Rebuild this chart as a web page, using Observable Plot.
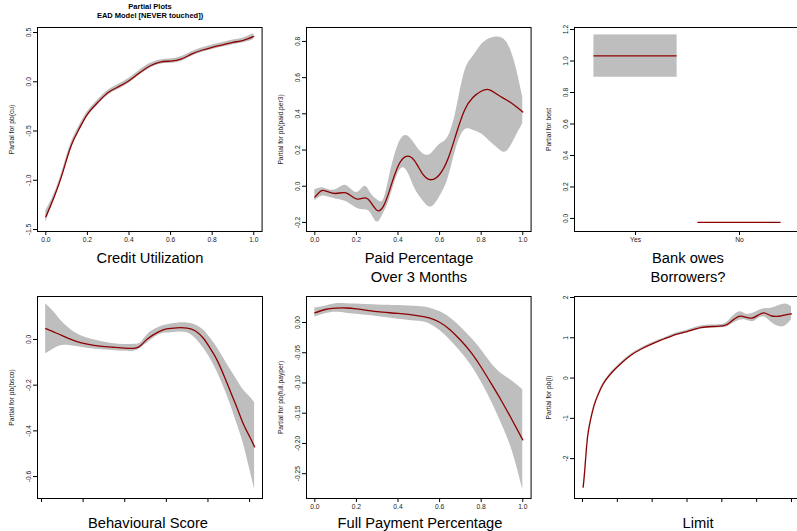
<!DOCTYPE html>
<html><head><meta charset="utf-8">
<script src="https://cdn.jsdelivr.net/npm/d3@7"></script>
<script src="https://cdn.jsdelivr.net/npm/@observablehq/plot@0.6"></script>
<style>
html,body{margin:0;padding:0;background:#fff;overflow:hidden;}
#root{position:relative;width:797px;height:531px;overflow:hidden;}
.panel{position:absolute;}
.panel svg{max-width:none;}
.xl{position:absolute;font-family:"Liberation Sans",Arial,sans-serif;font-size:14.7px;line-height:18.5px;text-align:center;transform:translateX(-50%);white-space:nowrap;color:#000;}
.title{position:absolute;left:150px;top:3px;transform:translateX(-50%);font-family:"Liberation Sans",Arial,sans-serif;font-weight:bold;font-size:7.5px;line-height:8.7px;text-align:center;white-space:nowrap;}
</style></head><body><div id="root"></div>
<script>
// ---------- Data ----------
// Panel 1: Credit Utilization  pb(cu)
const cuX   = [0,0.04,0.08,0.12,0.16,0.2,0.25,0.3,0.35,0.4,0.45,0.5,0.55,0.6,0.65,0.7,0.75,0.8,0.85,0.9,0.95,1.0];
const cuFit = [-1.37,-1.17,-0.93,-0.66,-0.48,-0.33,-0.21,-0.11,-0.05,0.01,0.09,0.16,0.20,0.21,0.23,0.28,0.32,0.35,0.375,0.40,0.42,0.46];
const cuLo  = [-1.43,-1.20,-0.96,-0.69,-0.51,-0.355,-0.235,-0.135,-0.075,-0.015,0.065,0.135,0.178,0.188,0.207,0.257,0.297,0.327,0.352,0.377,0.395,0.43];
const cuHi  = [-1.31,-1.14,-0.90,-0.63,-0.45,-0.305,-0.185,-0.085,-0.025,0.035,0.115,0.185,0.222,0.232,0.253,0.303,0.343,0.373,0.398,0.423,0.445,0.49];

// Panel 2: Paid Percentage Over 3 Months  pb(paid.per3)
const ppX   = [0,0.025,0.05,0.1,0.15,0.2,0.24,0.27,0.3,0.33,0.36,0.4,0.44,0.48,0.52,0.56,0.6,0.64,0.68,0.72,0.76,0.8,0.84,0.88,0.92,0.96,1.0];
const ppFit = [-0.06,-0.03,-0.025,-0.04,-0.037,-0.07,-0.064,-0.09,-0.134,-0.11,-0.02,0.11,0.165,0.14,0.065,0.036,0.065,0.15,0.29,0.42,0.49,0.525,0.533,0.505,0.478,0.447,0.41];
const ppLo  = [-0.08,-0.06,-0.055,-0.07,-0.085,-0.12,-0.13,-0.15,-0.198,-0.15,-0.07,0.069,0.09,-0.01,-0.08,-0.115,-0.06,0.04,0.21,0.31,0.31,0.29,0.25,0.21,0.19,0.26,0.345];
const ppHi  = [-0.02,-0.01,-0.012,-0.02,0.004,-0.035,0.0,-0.04,-0.075,-0.075,0.06,0.225,0.28,0.235,0.18,0.18,0.23,0.27,0.42,0.63,0.715,0.78,0.815,0.825,0.8,0.69,0.49];

// Panel 3: Bank owes Borrowers?  bost (factor)
const bostLevels = ["Yes","No"];
const bostPos    = [1,2];
const bostFit    = [1.033,-0.025];
const bostLo     = [0.897,-0.025];
const bostHi     = [1.166,-0.025];

// Panel 4: Behavioural Score  pb(bsco)
const bsX   = [10,30,50,80,110,140,170,200,225,240,255,280,300,325,350,370,390,405,420,440,455,470,485,500,512];
const bsFit = [0.047,0.032,0.017,-0.006,-0.02,-0.029,-0.034,-0.038,-0.038,-0.024,0.003,0.032,0.046,0.051,0.05,0.037,0.003,-0.038,-0.084,-0.165,-0.233,-0.30,-0.37,-0.425,-0.47];
const bsLo  = [-0.063,-0.041,-0.026,-0.03,-0.038,-0.044,-0.048,-0.052,-0.05,-0.035,-0.014,0.018,0.028,0.032,0.029,0.004,-0.04,-0.082,-0.134,-0.218,-0.29,-0.37,-0.455,-0.565,-0.657];
const bsHi  = [0.156,0.12,0.076,0.03,0.006,-0.008,-0.018,-0.022,-0.021,-0.012,0.022,0.051,0.063,0.071,0.072,0.063,0.04,0.007,-0.03,-0.09,-0.135,-0.178,-0.22,-0.25,-0.277];
const bsTicks = [0,100,200,300,400,500];

// Panel 5: Full Payment Percentage  pb(full.payper)
const fpX   = [0,0.05,0.1,0.15,0.2,0.3,0.4,0.5,0.55,0.6,0.65,0.7,0.75,0.8,0.85,0.9,0.95,1.0];
const fpFit = [0.016,0.0215,0.0238,0.024,0.0226,0.018,0.015,0.011,0.0075,0.0005,-0.012,-0.029,-0.049,-0.074,-0.102,-0.131,-0.162,-0.194];
const fpLo  = [0.009,0.0145,0.017,0.0155,0.0135,0.0098,0.0055,0.002,-0.002,-0.013,-0.029,-0.048,-0.07,-0.098,-0.131,-0.169,-0.213,-0.277];
const fpHi  = [0.024,0.027,0.031,0.031,0.0305,0.029,0.028,0.0265,0.024,0.018,0.008,-0.007,-0.025,-0.045,-0.068,-0.085,-0.097,-0.111];

// Panel 6: Limit  pb(l)
const lmX   = [100,300,600,900,1400,1900,2600,3300,4250,5450,6900,8300,10000,11700,13350,15000,16950,18600,20300,21250,22450,23400,24350,25100,26050,27000,28200,29150,30000];
const lmFit = [-2.71,-2.34,-1.68,-1.26,-0.85,-0.56,-0.27,-0.06,0.145,0.35,0.56,0.71,0.85,0.97,1.08,1.155,1.25,1.28,1.30,1.39,1.53,1.51,1.49,1.55,1.62,1.55,1.535,1.57,1.595];
const lmLo  = [-2.80,-2.38,-1.71,-1.29,-0.875,-0.585,-0.295,-0.085,0.12,0.325,0.535,0.685,0.825,0.945,1.05,1.12,1.21,1.24,1.255,1.32,1.43,1.44,1.40,1.46,1.52,1.40,1.28,1.30,1.45];
const lmHi  = [-2.64,-2.30,-1.65,-1.23,-0.825,-0.535,-0.245,-0.035,0.17,0.375,0.585,0.735,0.875,0.995,1.11,1.19,1.29,1.32,1.345,1.47,1.64,1.59,1.60,1.66,1.72,1.73,1.80,1.84,1.77];
const lmTicks = [0,5000,10000,15000,20000,25000,30000];

const unitTicks = [0,0.2,0.4,0.6,0.8,1.0];

// ---------- Styles ----------
const BAND = "#bebebe";
const LINE = "#8e0000";
const FONT = "'Liberation Sans', Arial, Helvetica, sans-serif";
const f1 = d => d.toFixed(1);
const f2 = d => d.toFixed(2);
const blank = () => "";

const root = document.getElementById("root");

function panel(o) {
  const ml = 36, mr = 4, mt = 4, mb = 16;
  const W = o.R - o.L, H = o.B - o.T;
  const chart = Plot.plot({
    width: W + ml + mr, height: H + mt + mb,
    marginLeft: ml, marginRight: mr, marginTop: mt, marginBottom: mb,
    x: {type: "linear", domain: o.xDomain},
    y: {type: "linear", domain: o.yDomain},
    style: {fontFamily: FONT, fontSize: "6.7px", background: "transparent", color: "#222", overflow: "visible"},
    marks: [
      ...o.marks,
      Plot.frame({stroke: "#000", strokeWidth: 1}),
      Plot.axisX({ticks: o.xTicks, tickFormat: o.xFmt, tickSize: 4, tickPadding: 2, label: null, stroke: "#000"}),
      Plot.axisY({ticks: o.yTicks, tickFormat: o.yFmt, tickSize: 4, tickPadding: 3, tickRotate: -90,
                  label: o.ylabel, labelAnchor: "center", labelOffset: 28, labelArrow: "none", stroke: "#000"})
    ]
  });
  const div = document.createElement("div");
  div.className = "panel";
  div.style.left = (o.L - ml) + "px";
  div.style.top = (o.T - mt) + "px";
  div.appendChild(chart);
  root.appendChild(div);
}

function smooth(X, F, Lo, Hi) {
  return [
    Plot.areaY(X, {x: X, y1: Lo, y2: Hi, fill: BAND, curve: "natural"}),
    Plot.line(X, {x: X, y: F, stroke: LINE, strokeWidth: 1.3, curve: "natural"})
  ];
}

panel({L: 36.7, R: 261.3, T: 27, B: 231,
  xDomain: [-0.04, 1.04], yDomain: [-1.52, 0.551],
  xTicks: unitTicks, xFmt: f1, yTicks: [-1.5,-1,-0.5,0,0.5], yFmt: f1,
  ylabel: "Partial for pb(cu)", marks: smooth(cuX, cuFit, cuLo, cuHi)});

panel({L: 305.7, R: 530.3, T: 27, B: 231,
  xDomain: [-0.04, 1.04], yDomain: [-0.25, 0.877],
  xTicks: unitTicks, xFmt: f1, yTicks: [-0.2,0,0.2,0.4,0.6,0.8], yFmt: f1,
  ylabel: "Partial for pb(paid.per3)", marks: smooth(ppX, ppFit, ppLo, ppHi)});

panel({L: 574, R: 799, T: 27, B: 231,
  xDomain: [0.413, 2.577], yDomain: [-0.083, 1.213],
  xTicks: bostPos, xFmt: d => bostLevels[bostPos.indexOf(d)], yTicks: [0,0.2,0.4,0.6,0.8,1.0,1.2], yFmt: f1,
  ylabel: "Partial for bost",
  marks: [
    Plot.rect(bostPos, {x1: d => d - 0.4, x2: d => d + 0.4, y1: bostLo, y2: bostHi, fill: BAND}),
    Plot.ruleY(bostPos, {y: bostFit, x1: d => d - 0.4, x2: d => d + 0.4, stroke: LINE, strokeWidth: 1.3})
  ]});

panel({L: 37, R: 262, T: 296, B: 498,
  xDomain: [-9.6, 531], yDomain: [-0.696, 0.188],
  xTicks: bsTicks, xFmt: blank, yTicks: [-0.6,-0.4,-0.2,0], yFmt: f1,
  ylabel: "Partial for pb(bsco)", marks: smooth(bsX, bsFit, bsLo, bsHi)});

panel({L: 305.7, R: 530.3, T: 296, B: 498,
  xDomain: [-0.04, 1.04], yDomain: [-0.291, 0.043],
  xTicks: unitTicks, xFmt: f1, yTicks: [-0.25,-0.2,-0.15,-0.1,-0.05,0], yFmt: f2,
  ylabel: "Partial for pb(full.payper)", marks: smooth(fpX, fpFit, fpLo, fpHi)});

panel({L: 574, R: 799, T: 296, B: 498,
  xDomain: [-1148, 31150], yDomain: [-2.99, 2.025],
  xTicks: lmTicks, xFmt: blank, yTicks: [-2,-1,0,1,2], yFmt: d => String(d),
  ylabel: "Partial for pb(l)", marks: smooth(lmX, lmFit, lmLo, lmHi)});

// ---------- Texts ----------
function addText(cls, html, left, top) {
  const d = document.createElement("div");
  d.className = cls;
  d.innerHTML = html;
  if (left != null) d.style.left = left + "px";
  d.style.top = top + "px";
  root.appendChild(d);
}
addText("title", "Partial Plots<br>EAD Model [NEVER touched])", 150, 3);
addText("xl", "Credit Utilization", 150, 249);
addText("xl", "Paid Percentage<br>Over 3 Months", 419, 249);
addText("xl", "Bank owes<br>Borrowers?", 688, 249);
addText("xl", "Behavioural Score", 148, 514);
addText("xl", "Full Payment Percentage", 420, 514);
addText("xl", "Limit", 698, 514);
</script></body></html>
